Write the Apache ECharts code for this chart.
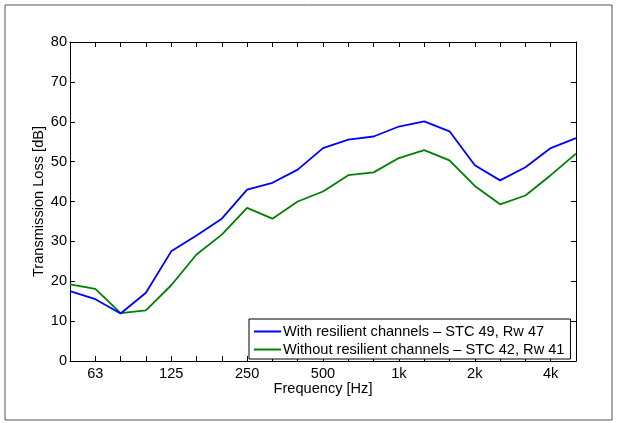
<!DOCTYPE html>
<html>
<head>
<meta charset="utf-8">
<script src="https://cdn.jsdelivr.net/npm/echarts@6/dist/echarts.min.js"></script>
<style>
  html, body { margin: 0; padding: 0; background: #fff; }
  #chart { width: 617px; height: 423px; }
</style>
</head>
<body>
<div id="chart"></div>
<script>
  // one-third octave bands, Hz
  var bands = [50, 63, 80, 100, 125, 160, 200, 250, 315, 400, 500, 630, 800, 1000, 1250, 1600, 2000, 2500, 3150, 4000, 5000];
  // labelled octave ticks
  var tickLabels = { 63: '63', 125: '125', 250: '250', 500: '500', 1000: '1k', 2000: '2k', 4000: '4k' };

  var withChannels = [17.5, 15.5, 11.9, 17.1, 27.5, 31.5, 35.7, 43.0, 44.7, 48.0, 53.4, 55.5, 56.3, 58.8, 60.1, 57.6, 49.1, 45.3, 48.6, 53.4, 55.9];
  var withoutChannels = [19.2, 18.1, 12.0, 12.7, 19.0, 26.7, 31.7, 38.4, 35.7, 40.0, 42.5, 46.6, 47.3, 50.9, 52.9, 50.3, 43.9, 39.3, 41.5, 46.6, 52.0];

  var seriesNames = [
    'With resilient channels \u2013 STC 49, Rw 47',
    'Without resilient channels \u2013 STC 42, Rw 41'
  ];

  var font = '"Liberation Sans", Arial, Helvetica, sans-serif';
  var fs = 14.6;

  function toPoints(vals) {
    return vals.map(function (v, i) { return [i, v]; });
  }

  var chart = echarts.init(document.getElementById('chart'));

  var tickStyle = { show: true, inside: true, length: 5, lineStyle: { color: '#000', width: 1 } };
  var lineStyle = { show: true, onZero: false, lineStyle: { color: '#000', width: 1 } };

  var option = {
    backgroundColor: '#fff',
    animation: false,
    graphic: [{
      type: 'rect',
      shape: { x: 5, y: 5, width: 607, height: 415 },
      style: { fill: 'none', stroke: '#555', lineWidth: 1 },
      silent: true
    }],
    grid: { left: 70, right: 41, top: 42, bottom: 62, containLabel: false },
    legend: {
      orient: 'vertical',
      left: 249,
      top: 319,
      padding: [4, 6, 1, 5],
      itemGap: 1,
      itemWidth: 27,
      itemHeight: 2,
      icon: 'rect',
      borderColor: '#000',
      borderWidth: 1,
      borderRadius: 0,
      backgroundColor: '#fff',
      textStyle: { fontFamily: font, fontSize: fs, color: '#000', lineHeight: 17, padding: [0, 0, 0, -3] },
      data: seriesNames
    },
    xAxis: [{
      type: 'value',
      min: 0,
      max: bands.length - 1,
      interval: 1,
      name: 'Frequency [Hz]',
      nameLocation: 'middle',
      nameGap: 20,
      nameMoveOverlap: false,
      nameTextStyle: { fontFamily: font, fontSize: fs, color: '#000' },
      axisLine: lineStyle,
      axisTick: tickStyle,
      splitLine: { show: false },
      axisLabel: {
        margin: 5,
        fontFamily: font, fontSize: fs, color: '#000',
        showMinLabel: true, showMaxLabel: true,
        formatter: function (v) {
          var f = bands[Math.round(v)];
          return tickLabels[f] || '';
        }
      }
    }, {
      type: 'value',
      position: 'top',
      min: 0,
      max: bands.length - 1,
      interval: 1,
      axisLine: lineStyle,
      axisTick: tickStyle,
      axisLabel: { show: false },
      splitLine: { show: false }
    }],
    yAxis: [{
      type: 'value',
      min: 0,
      max: 80,
      interval: 10,
      name: 'Transmission Loss [dB]',
      nameLocation: 'middle',
      nameGap: 24,
      nameMoveOverlap: false,
      nameTextStyle: { fontFamily: font, fontSize: fs, color: '#000' },
      axisLine: lineStyle,
      axisTick: tickStyle,
      splitLine: { show: false },
      axisLabel: { margin: 3, fontFamily: font, fontSize: fs, color: '#000' }
    }, {
      type: 'value',
      position: 'right',
      min: 0,
      max: 80,
      interval: 10,
      axisLine: lineStyle,
      axisTick: tickStyle,
      axisLabel: { show: false },
      splitLine: { show: false }
    }],
    series: [{
      name: seriesNames[0],
      type: 'line',
      data: toPoints(withChannels),
      symbol: 'none',
      lineStyle: { color: '#0000ff', width: 1.8 },
      itemStyle: { color: '#0000ff' },
      z: 3
    }, {
      name: seriesNames[1],
      type: 'line',
      data: toPoints(withoutChannels),
      symbol: 'none',
      lineStyle: { color: '#008000', width: 1.8 },
      itemStyle: { color: '#008000' },
      z: 2
    }]
  };

  chart.setOption(option);
</script>
</body>
</html>
